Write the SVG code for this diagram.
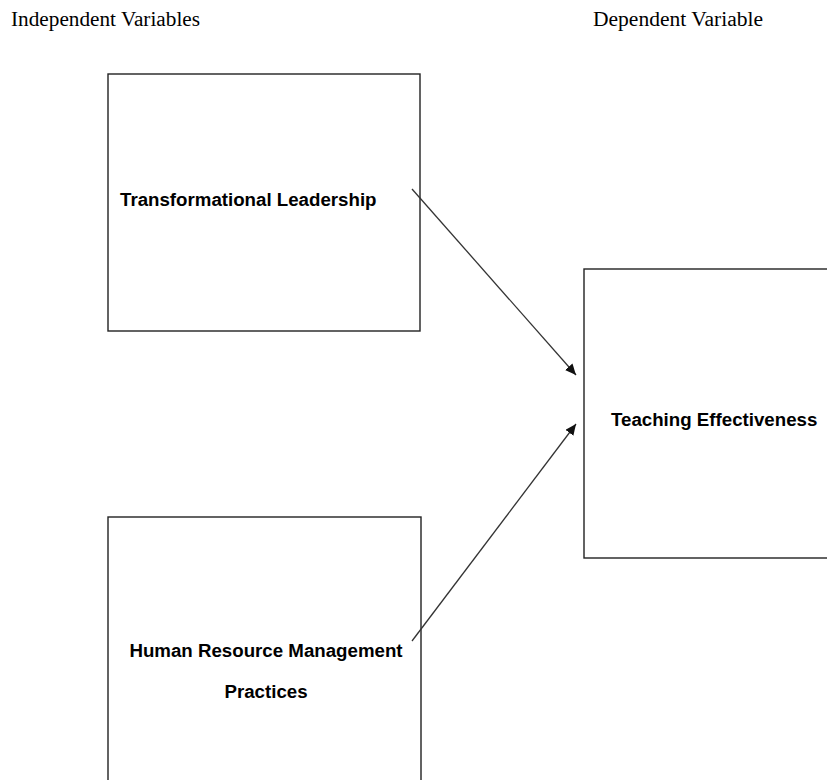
<svg xmlns="http://www.w3.org/2000/svg" width="827" height="780" viewBox="0 0 827 780">
<style>
.hdr{font-family:"Liberation Serif","Times New Roman",serif;font-size:20.5px;fill:#000}
.box{fill:#fff;stroke:#222;stroke-width:1.4}
.lbl{font-family:"Liberation Sans",Arial,sans-serif;font-weight:bold;font-size:18.7px;fill:#000}
.conn{stroke:#333;stroke-width:1.3;fill:none}
</style>
<defs>
<marker id="arr" markerUnits="userSpaceOnUse" markerWidth="12" markerHeight="10" refX="11" refY="5" orient="auto">
<path d="M0,0 L11,5 L0,10 Z" fill="#111"/>
</marker>
</defs>
<rect width="827" height="780" fill="#fff"/>
<text class="hdr" x="11" y="26" textLength="189" lengthAdjust="spacingAndGlyphs">Independent Variables</text>
<text class="hdr" x="593" y="26" textLength="170" lengthAdjust="spacingAndGlyphs">Dependent Variable</text>
<g id="node-tl">
<rect class="box" x="108" y="74" width="312" height="257"/>
<text class="lbl" x="120" y="206">Transformational Leadership</text>
</g>
<g id="node-hrm">
<rect class="box" x="108" y="517" width="313" height="280"/>
<text class="lbl" x="266" y="657" text-anchor="middle">Human Resource Management</text>
<text class="lbl" x="266" y="698" text-anchor="middle">Practices</text>
</g>
<g id="node-te">
<rect class="box" x="584" y="269" width="260" height="289"/>
<text class="lbl" x="611" y="426">Teaching Effectiveness</text>
</g>
<g id="connectors">
<line class="conn" x1="412" y1="189" x2="576" y2="375" marker-end="url(#arr)"/>
<line class="conn" x1="412" y1="641" x2="576" y2="424" marker-end="url(#arr)"/>
</g>
</svg>
